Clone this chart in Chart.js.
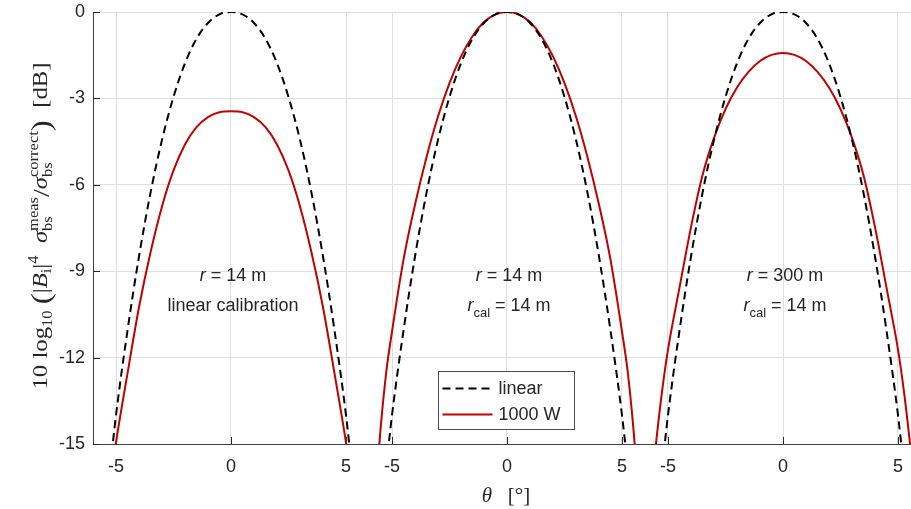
<!DOCTYPE html>
<html>
<head>
<meta charset="utf-8">
<script src="https://cdn.jsdelivr.net/npm/chart.js@4.4.0/dist/chart.umd.min.js"></script>
<style>
    html, body { margin: 0; padding: 0; background: #fff; overflow: hidden; }
    #wrap { width: 911px; height: 509px; }
</style>
</head>
<body>
<div id="wrap"><canvas id="chart" width="911" height="509"></canvas></div>
<script>
// beam angle samples [deg], shared by every curve
const thetaDeg = [-5.75, -5.5, -5.25, -5, -4.5, -4, -3.5, -3, -2.5, -2, -1.5, -1, -0.5, 0,
    0.5, 1, 1.5, 2, 2.5, 3, 3.5, 4, 4.5, 5, 5.25, 5.5, 5.75];

// linear reference (same in all three panels) [dB]
const linearDb = [null, null, -15.8, -14.0, -11.06, -8.49, -6.28, -4.44, -2.95, -1.78, -0.93, -0.38, -0.08, 0,
    -0.08, -0.38, -0.93, -1.78, -2.95, -4.44, -6.28, -8.49, -11.06, -14.0, -15.8, null, null];

// 1000 W curves, one per panel [dB]
const w1000Panel1 = [null, null, -16.35, -14.95, -12.55, -10.25, -8.35, -6.75, -5.5, -4.6, -4.0, -3.65, -3.48, -3.45,
    -3.48, -3.65, -4.0, -4.6, -5.5, -6.75, -8.35, -10.25, -12.55, -14.95, -16.35, null, null];
const w1000Panel2 = [-17.0, -14.5, -12.5, -11.1, -8.6, -6.69, -5.04, -3.63, -2.47, -1.54, -0.84, -0.35, -0.08, 0,
    -0.08, -0.35, -0.84, -1.54, -2.47, -3.63, -5.04, -6.69, -8.6, -11.1, -12.5, -14.5, -17.0];
const w1000Panel3 = [-16.72, -14.82, -13.12, -11.72, -9.57, -7.47, -5.67, -4.37, -3.37, -2.62, -2.08, -1.7, -1.49, -1.42,
    -1.49, -1.7, -2.08, -2.62, -3.37, -4.37, -5.67, -7.47, -9.57, -11.72, -13.12, -14.82, -16.72];

const thetaTicks = [-5, 0, 5];
const yTicksDb = [-15, -12, -9, -6, -3, 0];
const panelRange = ['14 m', '14 m', '300 m'];
const panelCal = ['linear calibration', '14 m', '14 m'];
const seriesNames = ['linear', '1000 W'];

const panelSpan = 12;
const w1000 = [w1000Panel1, w1000Panel2, w1000Panel3];

const sans = '"Liberation Sans", Arial, sans-serif';
const serif = '"Liberation Serif", "DejaVu Serif", serif';
const textColor = '#262626';

function series(values, k) {
    return thetaDeg.map((t, i) => ({x: t + k * panelSpan, y: values[i]}));
}

const lineBase = {pointRadius: 0, fill: false, cubicInterpolationMode: 'monotone', spanGaps: false};
const datasets = [];
[0, 1, 2].forEach(k => datasets.push({
    ...lineBase, label: seriesNames[0], data: series(linearDb, k),
    borderColor: '#000000', borderWidth: 2, borderDash: [8, 5]
}));
[0, 1, 2].forEach(k => datasets.push({
    ...lineBase, label: seriesNames[1], data: series(w1000[k], k),
    borderColor: '#c00000', borderWidth: 2
}));

// text runs with sub/superscripts
function runsWidth(ctx, runs) {
    let w = 0;
    runs.forEach(r => {
        if (r.stack) {
            w += Math.max(...r.stack.map(s => { ctx.font = s.f; return ctx.measureText(s.t).width; }));
        } else {
            ctx.font = r.f;
            w += ctx.measureText(r.t).width;
        }
    });
    return w;
}

function drawRuns(ctx, runs, x, y) {
    ctx.textAlign = 'left';
    ctx.textBaseline = 'alphabetic';
    runs.forEach(r => {
        if (r.stack) {
            let w = 0;
            r.stack.forEach(s => {
                ctx.font = s.f;
                ctx.fillText(s.t, x, y + (s.dy || 0));
                w = Math.max(w, ctx.measureText(s.t).width);
            });
            x += w;
        } else {
            ctx.font = r.f;
            ctx.fillText(r.t, x, y + (r.dy || 0));
            x += ctx.measureText(r.t).width;
        }
    });
}

function drawCentered(ctx, runs, cx, y) {
    drawRuns(ctx, runs, cx - runsWidth(ctx, runs) / 2, y);
}

const insideTicks = {
    id: 'insideTicks',
    beforeDatasetsDraw(chart) {
        const {ctx, chartArea: a, scales: {x, y}} = chart;
        ctx.save();
        ctx.strokeStyle = textColor;
        ctx.lineWidth = 1;
        ctx.beginPath();
        x.ticks.forEach(t => {
            const px = Math.round(x.getPixelForValue(t.value)) + 0.5;
            ctx.moveTo(px, a.bottom);
            ctx.lineTo(px, a.bottom - 7);
        });
        y.ticks.forEach(t => {
            const py = Math.round(y.getPixelForValue(t.value)) + 0.5;
            ctx.moveTo(a.left, py);
            ctx.lineTo(a.left + 7, py);
        });
        ctx.stroke();
        ctx.restore();
    }
};

const labels = {
    id: 'labels',
    afterDatasetsDraw(chart) {
        const {ctx, scales: {x}} = chart;
        ctx.save();
        ctx.fillStyle = textColor;

        // panel notes
        const f = `18px ${sans}`, fi = `italic 18px ${sans}`, fs = `13px ${sans}`;
        [0, 1, 2].forEach(k => {
            const cx = x.getPixelForValue(k * panelSpan) + 2;
            drawCentered(ctx, [{t: 'r', f: fi}, {t: ' = ' + panelRange[k], f: f}], cx, 281);
            if (k === 0) {
                drawCentered(ctx, [{t: panelCal[k], f: f}], cx, 311);
            } else {
                drawCentered(ctx, [{t: 'r', f: fi}, {t: 'cal', f: fs, dy: 6}, {t: ' = ' + panelCal[k], f: f}], cx, 311);
            }
        });

        // legend
        const lx = 438.5, ly = 371.5, lw = 136, lh = 58;
        ctx.fillStyle = '#ffffff';
        ctx.fillRect(lx, ly, lw, lh);
        ctx.strokeStyle = '#4d4d4d';
        ctx.lineWidth = 1;
        ctx.strokeRect(lx, ly, lw, lh);
        [datasets[0], datasets[3]].forEach((ds, i) => {
            const yy = ly + 17 + i * 26;
            ctx.strokeStyle = ds.borderColor;
            ctx.lineWidth = ds.borderWidth;
            ctx.setLineDash(ds.borderDash || []);
            ctx.beginPath();
            ctx.moveTo(lx + 4, yy);
            ctx.lineTo(lx + 54, yy);
            ctx.stroke();
            ctx.setLineDash([]);
            ctx.fillStyle = textColor;
            ctx.font = f;
            ctx.textAlign = 'left';
            ctx.textBaseline = 'middle';
            ctx.fillText(ds.label, lx + 60, yy + 1);
        });

        // x title
        ctx.fillStyle = textColor;
        drawCentered(ctx, [{t: 'θ', f: `italic 21px ${serif}`}, {t: '   [°]', f: `21px ${serif}`}], 506, 502);

        // y title, rotated
        const m = `21px ${serif}`, mi = `italic 21px ${serif}`, s = `14px ${serif}`, big = `28px ${serif}`;
        const yRuns = [
            {t: '10 log', f: m},
            {t: '10', f: s, dy: 5},
            {t: ' ', f: m},
            {t: '(', f: big, dy: 3},
            {t: '|', f: m},
            {t: 'B', f: mi},
            {t: 'i', f: s, dy: 4},
            {t: '|', f: m},
            {t: '4', f: s, dy: -9},
            {t: '  ', f: m},
            {t: 'σ', f: mi},
            {stack: [{t: 'meas', f: s, dy: -9}, {t: 'bs', f: s, dy: 5}]},
            {t: '/', f: `24px ${serif}`, dy: 2},
            {t: 'σ', f: mi},
            {stack: [{t: 'correct', f: s, dy: -9}, {t: 'bs', f: s, dy: 5}]},
            {t: ')', f: big, dy: 3},
            {t: '  [dB]', f: m}
        ];
        const target = 327;
        const w = runsWidth(ctx, yRuns);
        ctx.translate(47, 226);
        ctx.rotate(-Math.PI / 2);
        ctx.scale(target / w, 1);
        drawRuns(ctx, yRuns, -w / 2, 0);
        ctx.restore();
    }
};

new Chart(document.getElementById('chart'), {
    type: 'line',
    data: {datasets: datasets},
    options: {
        responsive: false,
        animation: false,
        devicePixelRatio: 1,
        layout: {padding: {top: 12, right: 0, bottom: 0, left: 0}},
        plugins: {legend: {display: false}, tooltip: {enabled: false}},
        scales: {
            x: {
                type: 'linear',
                min: -6,
                max: -6 + 818 / 23,
                afterBuildTicks: scale => {
                    scale.ticks = [];
                    [0, 1, 2].forEach(k => thetaTicks.forEach(t => scale.ticks.push({value: t + k * panelSpan})));
                },
                afterFit: scale => {
                    scale.height = 65;
                    scale.paddingLeft = 0;
                    scale.paddingRight = 0;
                },
                ticks: {
                    callback: v => String(v - panelSpan * Math.round(v / panelSpan)),
                    font: {family: sans, size: 18},
                    color: textColor,
                    padding: 12,
                    maxRotation: 0,
                    autoSkip: false
                },
                grid: {color: '#dfdfdf', drawTicks: false},
                border: {display: true, color: '#404040', width: 1}
            },
            y: {
                min: -15,
                max: 0,
                afterBuildTicks: scale => { scale.ticks = yTicksDb.map(v => ({value: v})); },
                afterFit: scale => {
                    scale.width = 93;
                    scale.paddingTop = 0;
                    scale.paddingBottom = 0;
                },
                ticks: {
                    font: {family: sans, size: 18},
                    color: textColor,
                    padding: 8
                },
                grid: {color: '#dfdfdf', drawTicks: false},
                border: {display: true, color: '#404040', width: 1}
            }
        }
    },
    plugins: [insideTicks, labels]
});
</script>
</body>
</html>
